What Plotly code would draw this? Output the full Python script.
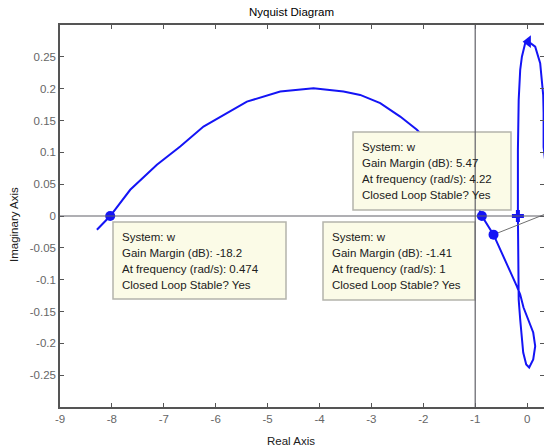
import plotly.graph_objects as go

# ---- data ----
curve_re = [-8.289, -8.033, -7.647, -7.133, -6.684, -6.235, -5.784, -5.399, -4.757, -4.116,
            -3.538, -3.216, -2.830, -2.445, -2.123, -1.674, -1.289, -1.000, -0.871, -0.647,
            -0.197, -0.133, -0.069, 0.021, 0.118, 0.156, 0.118, 0.040, -0.017, -0.075,
            -0.100, -0.133, -0.162, -0.177, -0.177, -0.177, -0.162, -0.133, -0.100, -0.037,
            0.027, 0.156, 0.252, 0.310, 0.318, 0.318, 0.40]
curve_im = [-0.0215, 0.0, 0.0412, 0.0805, 0.109, 0.1405, 0.1615, 0.1797, 0.1954, 0.2008,
            0.1954, 0.1902, 0.1772, 0.1562, 0.1354, 0.0961, 0.0569, 0.0256, 0.0, -0.0293,
            -0.1104, -0.1234, -0.1438, -0.1626, -0.183, -0.2045, -0.2254, -0.2379, -0.2332, -0.2144,
            -0.194, -0.1626, -0.1313, -0.0529, 0.0, 0.104, 0.1824, 0.2295, 0.2503, 0.2713,
            0.2738, 0.266, 0.240, 0.190, 0.162, 0.108, 0.05]

tip_re = [-8.033, -0.871, -0.647]
tip_im = [0.0, 0.0, -0.0293]
cross_re = [-0.177]
cross_im = [0.0]
arrow_re = [0.02]
arrow_im = [0.2738]
leader_re = [-0.647, 0.40]
leader_im = [-0.0293, 0.0046]

x_ticks = [-9, -8, -7, -6, -5, -4, -3, -2, -1, 0]
x_labels = ["-9", "-8", "-7", "-6", "-5", "-4", "-3", "-2", "-1", "0"]
y_ticks = [-0.25, -0.2, -0.15, -0.1, -0.05, 0, 0.05, 0.1, 0.15, 0.2, 0.25]
y_labels = ["-0.25", "-0.2", "-0.15", "-0.1", "-0.05", "0", "0.05", "0.1", "0.15", "0.2", "0.25"]

tips = [
    ["System: w", "Gain Margin (dB): -18.2", "At frequency (rad/s): 0.474", "Closed Loop Stable? Yes"],
    ["System: w", "Gain Margin (dB): -1.41", "At frequency (rad/s): 1", "Closed Loop Stable? Yes"],
    ["System: w", "Gain Margin (dB): 5.47", "At frequency (rad/s): 4.22", "Closed Loop Stable? Yes"],
]

# ---- layout geometry (pixels) ----
W, H = 544, 447
ML, MR, MT, MB = 60, 0, 25, 40
PW, PH = W - ML - MR, H - MT - MB

def px(xp):
    return (xp - ML) / PW

def py(yp):
    return (H - MB - yp) / PH

BLUE = "#1414f5"
GRAY = "#606068"
AX = "#555555"
FONT = "Liberation Sans, Arial, sans-serif"

fig = go.Figure()
fig.add_trace(go.Scatter(x=curve_re, y=curve_im, mode="lines",
                         line=dict(color=BLUE, width=2), hoverinfo="skip"))
fig.add_trace(go.Scatter(x=leader_re, y=leader_im, mode="lines",
                         line=dict(color="#707070", width=1), hoverinfo="skip"))
fig.add_trace(go.Scatter(x=tip_re, y=tip_im, mode="markers",
                         marker=dict(color=BLUE, size=10), hoverinfo="skip"))
fig.add_trace(go.Scatter(x=cross_re, y=cross_im, mode="markers",
                         marker=dict(color=BLUE, size=10, symbol="cross"), hoverinfo="skip"))
fig.add_trace(go.Scatter(x=arrow_re, y=arrow_im, mode="markers",
                         marker=dict(color=BLUE, size=11, symbol="triangle-left"), hoverinfo="skip"))
# invisible trace for right-side tick marks
fig.add_trace(go.Scatter(x=[-9], y=[0], yaxis="y2", mode="markers",
                         marker=dict(opacity=0), hoverinfo="skip"))

# datatip boxes (pixel rectangles) and texts
boxes = [(113, 222, 286, 299), (323, 222, 475, 300), (353, 132, 511, 210)]
shapes = []
annotations = []
for (x0, y0, x1, y1), lines in zip(boxes, tips):
    shapes.append(dict(type="rect", xref="paper", yref="paper",
                       x0=px(x0), x1=px(x1), y0=py(y1), y1=py(y0),
                       fillcolor="#fbfbe7", line=dict(color="#b4b4ac", width=1.5),
                       layer="above"))
    for i, t in enumerate(lines):
        annotations.append(dict(text=t, xref="paper", yref="paper",
                                x=px(x0 + 7), y=py(y0 + 15 + 16 * i),
                                xanchor="left", yanchor="middle", showarrow=False,
                                font=dict(family=FONT, size=11.5, color="#202020")))

# gray reference lines at Re=-1 and Im=0
shapes.append(dict(type="line", xref="x", yref="paper", x0=-1, x1=-1, y0=0, y1=1,
                   line=dict(color=GRAY, width=1.2), layer="above"))
shapes.append(dict(type="line", xref="paper", yref="y", x0=0, x1=1, y0=0, y1=0,
                   line=dict(color=GRAY, width=1.2), layer="above"))

annotations.append(dict(text="Real Axis", xref="paper", yref="paper",
                        x=px(291), y=py(441), xanchor="center", yanchor="middle",
                        showarrow=False, font=dict(family=FONT, size=11.5, color="#202020")))
annotations.append(dict(text="Imaginary Axis", xref="paper", yref="paper",
                        x=px(14), y=py(225), xanchor="center", yanchor="middle", textangle=-90,
                        showarrow=False, font=dict(family=FONT, size=11.5, color="#202020")))
annotations.append(dict(text="Nyquist Diagram", xref="paper", yref="paper",
                        x=px(291), y=py(12), xanchor="center", yanchor="middle",
                        showarrow=False, font=dict(family=FONT, size=11.5, color="#000000")))

fig.update_layout(
    width=W, height=H,
    margin=dict(l=ML, r=MR, t=MT, b=MB),
    paper_bgcolor="white", plot_bgcolor="white",
    showlegend=False,
    shapes=shapes, annotations=annotations,
    xaxis=dict(range=[-9, -9 + PW / 51.9], tickvals=x_ticks, ticktext=x_labels,
               ticks="inside", ticklen=4, tickcolor=AX, tickwidth=1,
               showline=True, linecolor=AX, linewidth=1.5, mirror="ticks",
               showgrid=False, zeroline=False,
               tickfont=dict(family=FONT, size=11.5, color="#666666")),
    yaxis=dict(range=[-0.3, 0.3], tickvals=y_ticks, ticktext=y_labels,
               ticks="inside", ticklen=4, tickcolor=AX, tickwidth=1,
               showline=True, linecolor=AX, linewidth=1.5,
               showgrid=False, zeroline=False,
               tickfont=dict(family=FONT, size=11.5, color="#666666")),
    yaxis2=dict(range=[-0.3, 0.3], overlaying="y", side="right", tickvals=y_ticks,
                ticks="inside", ticklen=4, tickcolor=AX, showticklabels=False,
                showline=False, showgrid=False, zeroline=False),
)

fig.write_html("out.html", config={"displayModeBar": False},
               post_script="document.body.style.margin='0';document.body.style.overflow='hidden';")
